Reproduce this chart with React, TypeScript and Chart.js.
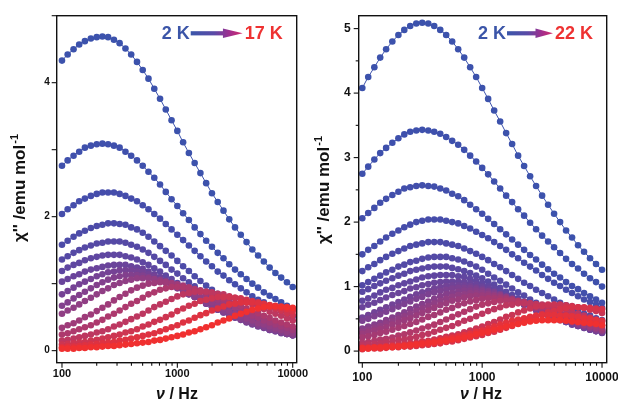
import React, { useEffect, useRef } from "react";
import { Chart, registerables } from "chart.js";

Chart.register(...registerables);

// ---------------- data ----------------
const FREQ_HZ = [100, 112, 126, 141, 158, 178, 200, 224, 251, 282, 316, 355, 398, 447, 501, 562, 631, 708, 794, 891, 1000, 1122, 1259, 1413, 1585, 1778, 1995, 2239, 2512, 2818, 3162, 3548, 3981, 4467, 5012, 5623, 6310, 7079, 7943, 8913, 10000];

const TEMPS_LEFT_K = [2, 3, 4, 5, 6, 7, 8, 9, 10, 11, 12, 13, 14, 15, 16, 17];
const TEMPS_RIGHT_K = [2, 3, 4, 5, 6, 7, 8, 9, 10, 11, 12, 13, 14, 15, 16, 17, 18, 19, 20, 21, 22];

const X_TICK_LABELS = [100, 1000, 10000];
const Y_TICK_LABELS_LEFT = [0, 2, 4];
const Y_TICK_LABELS_RIGHT = [0, 1, 2, 3, 4, 5];

// left panel, chi'' (emu/mol)
const chiL02 = [4.33, 4.42, 4.50, 4.57, 4.62, 4.66, 4.68, 4.69, 4.68, 4.64, 4.59, 4.51, 4.42, 4.31, 4.19, 4.06, 3.91, 3.76, 3.60, 3.44, 3.28, 3.11, 2.95, 2.80, 2.65, 2.50, 2.35, 2.22, 2.09, 1.96, 1.84, 1.73, 1.62, 1.51, 1.42, 1.33, 1.24, 1.16, 1.09, 1.02, 0.95];
const chiL03 = [2.76, 2.84, 2.91, 2.97, 3.03, 3.06, 3.08, 3.09, 3.08, 3.06, 3.03, 2.97, 2.91, 2.84, 2.76, 2.67, 2.58, 2.48, 2.37, 2.26, 2.16, 2.05, 1.95, 1.84, 1.74, 1.64, 1.55, 1.46, 1.38, 1.29, 1.21, 1.14, 1.07, 1.00, 0.94, 0.87, 0.82, 0.77, 0.72, 0.67, 0.63];
const chiL04 = [2.04, 2.11, 2.17, 2.23, 2.27, 2.31, 2.34, 2.36, 2.36, 2.36, 2.34, 2.31, 2.27, 2.23, 2.17, 2.11, 2.04, 1.97, 1.89, 1.81, 1.73, 1.65, 1.57, 1.49, 1.41, 1.33, 1.26, 1.18, 1.12, 1.05, 0.99, 0.93, 0.87, 0.81, 0.76, 0.72, 0.67, 0.63, 0.59, 0.55, 0.51];
const chiL05 = [1.58, 1.64, 1.70, 1.75, 1.79, 1.83, 1.86, 1.88, 1.90, 1.90, 1.89, 1.88, 1.84, 1.81, 1.76, 1.70, 1.63, 1.56, 1.49, 1.42, 1.34, 1.26, 1.19, 1.11, 1.04, 0.97, 0.91, 0.85, 0.78, 0.73, 0.68, 0.63, 0.58, 0.54, 0.50, 0.46, 0.43, 0.39, 0.36, 0.34, 0.31];
const chiL06 = [1.36, 1.41, 1.46, 1.50, 1.54, 1.57, 1.60, 1.61, 1.63, 1.63, 1.63, 1.61, 1.58, 1.55, 1.51, 1.46, 1.40, 1.34, 1.28, 1.21, 1.15, 1.08, 1.02, 0.96, 0.89, 0.83, 0.78, 0.73, 0.67, 0.63, 0.58, 0.54, 0.50, 0.46, 0.43, 0.40, 0.37, 0.34, 0.31, 0.29, 0.27];
const chiL07 = [1.19, 1.24, 1.28, 1.31, 1.35, 1.38, 1.40, 1.42, 1.43, 1.43, 1.43, 1.41, 1.39, 1.36, 1.32, 1.28, 1.23, 1.18, 1.12, 1.07, 1.01, 0.95, 0.89, 0.84, 0.78, 0.73, 0.68, 0.64, 0.59, 0.55, 0.51, 0.47, 0.44, 0.40, 0.37, 0.35, 0.32, 0.30, 0.27, 0.25, 0.23];
const chiL08 = [1.03, 1.07, 1.11, 1.14, 1.18, 1.21, 1.23, 1.25, 1.27, 1.28, 1.28, 1.28, 1.26, 1.24, 1.22, 1.18, 1.14, 1.10, 1.05, 1.00, 0.95, 0.90, 0.85, 0.80, 0.75, 0.70, 0.66, 0.61, 0.57, 0.53, 0.49, 0.46, 0.42, 0.39, 0.36, 0.34, 0.31, 0.29, 0.26, 0.25, 0.23];
const chiL09 = [0.84, 0.89, 0.94, 0.99, 1.03, 1.07, 1.11, 1.14, 1.17, 1.18, 1.20, 1.20, 1.20, 1.18, 1.17, 1.14, 1.11, 1.07, 1.03, 0.99, 0.94, 0.89, 0.84, 0.80, 0.75, 0.70, 0.66, 0.61, 0.57, 0.53, 0.50, 0.46, 0.43, 0.40, 0.37, 0.34, 0.31, 0.29, 0.27, 0.25, 0.23];
const chiL10 = [0.67, 0.72, 0.78, 0.83, 0.88, 0.93, 0.98, 1.02, 1.06, 1.09, 1.11, 1.13, 1.13, 1.13, 1.12, 1.10, 1.07, 1.04, 1.01, 0.97, 0.93, 0.89, 0.84, 0.80, 0.75, 0.71, 0.66, 0.62, 0.58, 0.54, 0.50, 0.47, 0.43, 0.40, 0.37, 0.35, 0.32, 0.30, 0.27, 0.25, 0.23];
const chiL11 = [0.55, 0.60, 0.64, 0.69, 0.74, 0.79, 0.84, 0.89, 0.93, 0.98, 1.01, 1.04, 1.06, 1.08, 1.08, 1.08, 1.07, 1.05, 1.03, 1.00, 0.97, 0.93, 0.89, 0.85, 0.80, 0.76, 0.72, 0.68, 0.63, 0.59, 0.55, 0.52, 0.48, 0.45, 0.41, 0.39, 0.36, 0.33, 0.31, 0.28, 0.26];
const chiL12 = [0.34, 0.38, 0.41, 0.45, 0.50, 0.54, 0.59, 0.64, 0.69, 0.75, 0.80, 0.85, 0.90, 0.94, 0.97, 1.00, 1.01, 1.02, 1.02, 1.01, 0.99, 0.97, 0.94, 0.91, 0.88, 0.84, 0.80, 0.76, 0.72, 0.68, 0.64, 0.60, 0.56, 0.52, 0.49, 0.45, 0.42, 0.39, 0.36, 0.34, 0.31];
const chiL13 = [0.24, 0.26, 0.29, 0.32, 0.35, 0.38, 0.42, 0.46, 0.51, 0.55, 0.60, 0.65, 0.70, 0.74, 0.79, 0.84, 0.87, 0.91, 0.93, 0.95, 0.95, 0.95, 0.94, 0.92, 0.90, 0.88, 0.85, 0.82, 0.78, 0.74, 0.71, 0.67, 0.63, 0.59, 0.56, 0.52, 0.49, 0.45, 0.42, 0.39, 0.36];
const chiL14 = [0.15, 0.16, 0.18, 0.20, 0.22, 0.24, 0.27, 0.29, 0.32, 0.36, 0.39, 0.43, 0.47, 0.51, 0.55, 0.60, 0.65, 0.69, 0.73, 0.77, 0.81, 0.84, 0.86, 0.88, 0.88, 0.88, 0.87, 0.85, 0.84, 0.81, 0.79, 0.76, 0.72, 0.69, 0.66, 0.62, 0.58, 0.55, 0.52, 0.48, 0.45];
const chiL15 = [0.09, 0.10, 0.11, 0.12, 0.13, 0.15, 0.16, 0.18, 0.20, 0.22, 0.24, 0.27, 0.29, 0.32, 0.36, 0.39, 0.43, 0.46, 0.50, 0.54, 0.59, 0.63, 0.67, 0.70, 0.74, 0.76, 0.78, 0.80, 0.80, 0.80, 0.79, 0.78, 0.76, 0.74, 0.72, 0.69, 0.66, 0.63, 0.60, 0.56, 0.53];
const chiL16 = [0.05, 0.06, 0.06, 0.07, 0.08, 0.09, 0.10, 0.11, 0.12, 0.13, 0.15, 0.16, 0.18, 0.20, 0.22, 0.24, 0.26, 0.29, 0.32, 0.35, 0.38, 0.42, 0.45, 0.49, 0.53, 0.56, 0.60, 0.63, 0.66, 0.69, 0.70, 0.72, 0.72, 0.72, 0.71, 0.70, 0.68, 0.67, 0.64, 0.62, 0.59];
const chiL17 = [0.03, 0.03, 0.03, 0.04, 0.04, 0.05, 0.05, 0.06, 0.07, 0.07, 0.08, 0.09, 0.10, 0.11, 0.12, 0.13, 0.15, 0.16, 0.18, 0.20, 0.22, 0.24, 0.27, 0.29, 0.32, 0.35, 0.38, 0.42, 0.45, 0.48, 0.52, 0.55, 0.58, 0.61, 0.63, 0.65, 0.66, 0.66, 0.66, 0.65, 0.64];

// right panel, chi'' (emu/mol)
const chiR02 = [4.08, 4.25, 4.40, 4.55, 4.68, 4.80, 4.90, 4.98, 5.04, 5.08, 5.09, 5.08, 5.04, 4.98, 4.90, 4.80, 4.68, 4.55, 4.40, 4.25, 4.08, 3.91, 3.73, 3.56, 3.38, 3.21, 3.03, 2.87, 2.71, 2.56, 2.41, 2.27, 2.13, 2.00, 1.87, 1.76, 1.64, 1.54, 1.44, 1.35, 1.26];
const chiR03 = [2.75, 2.86, 2.97, 3.07, 3.15, 3.23, 3.30, 3.36, 3.40, 3.42, 3.43, 3.42, 3.40, 3.37, 3.32, 3.26, 3.20, 3.12, 3.03, 2.94, 2.84, 2.74, 2.63, 2.52, 2.41, 2.31, 2.20, 2.10, 1.99, 1.89, 1.79, 1.70, 1.61, 1.52, 1.43, 1.35, 1.28, 1.20, 1.13, 1.07, 1.00];
const chiR04 = [2.06, 2.14, 2.22, 2.30, 2.36, 2.42, 2.47, 2.52, 2.54, 2.56, 2.57, 2.56, 2.55, 2.52, 2.49, 2.44, 2.40, 2.34, 2.27, 2.20, 2.13, 2.05, 1.97, 1.89, 1.81, 1.73, 1.65, 1.57, 1.49, 1.42, 1.34, 1.27, 1.20, 1.14, 1.07, 1.01, 0.96, 0.90, 0.85, 0.80, 0.75];
const chiR05 = [1.50, 1.57, 1.63, 1.70, 1.76, 1.82, 1.87, 1.92, 1.96, 2.00, 2.02, 2.04, 2.04, 2.04, 2.02, 2.00, 1.98, 1.94, 1.90, 1.85, 1.80, 1.75, 1.69, 1.63, 1.57, 1.50, 1.44, 1.37, 1.31, 1.25, 1.18, 1.12, 1.06, 1.01, 0.95, 0.90, 0.85, 0.80, 0.76, 0.72, 0.67];
const chiR06 = [1.24, 1.30, 1.35, 1.41, 1.46, 1.51, 1.55, 1.59, 1.63, 1.65, 1.67, 1.69, 1.69, 1.69, 1.67, 1.65, 1.63, 1.59, 1.55, 1.51, 1.46, 1.41, 1.35, 1.30, 1.24, 1.18, 1.12, 1.06, 1.01, 0.95, 0.90, 0.85, 0.80, 0.75, 0.71, 0.66, 0.62, 0.58, 0.55, 0.51, 0.48];
const chiR07 = [1.02, 1.07, 1.12, 1.17, 1.22, 1.26, 1.31, 1.34, 1.38, 1.40, 1.43, 1.45, 1.46, 1.46, 1.46, 1.44, 1.42, 1.39, 1.35, 1.31, 1.26, 1.20, 1.14, 1.09, 1.03, 0.97, 0.91, 0.86, 0.80, 0.75, 0.70, 0.65, 0.60, 0.56, 0.52, 0.48, 0.45, 0.41, 0.38, 0.35, 0.33];
const chiR08 = [0.92, 0.96, 1.01, 1.05, 1.09, 1.13, 1.17, 1.20, 1.24, 1.26, 1.28, 1.30, 1.31, 1.31, 1.31, 1.29, 1.27, 1.24, 1.21, 1.17, 1.13, 1.08, 1.03, 0.98, 0.92, 0.87, 0.82, 0.77, 0.72, 0.67, 0.63, 0.58, 0.54, 0.50, 0.47, 0.43, 0.40, 0.37, 0.34, 0.32, 0.29];
const chiR09 = [0.78, 0.82, 0.86, 0.91, 0.95, 0.98, 1.02, 1.05, 1.08, 1.11, 1.14, 1.16, 1.17, 1.18, 1.18, 1.18, 1.16, 1.15, 1.12, 1.09, 1.05, 1.01, 0.97, 0.93, 0.88, 0.83, 0.78, 0.74, 0.69, 0.65, 0.60, 0.56, 0.53, 0.49, 0.45, 0.42, 0.39, 0.36, 0.33, 0.31, 0.29];
const chiR10 = [0.68, 0.72, 0.75, 0.79, 0.83, 0.87, 0.90, 0.93, 0.97, 0.99, 1.02, 1.04, 1.06, 1.07, 1.08, 1.08, 1.08, 1.07, 1.05, 1.03, 1.00, 0.97, 0.93, 0.89, 0.85, 0.80, 0.76, 0.72, 0.68, 0.63, 0.59, 0.55, 0.52, 0.48, 0.45, 0.41, 0.39, 0.36, 0.33, 0.31, 0.28];
const chiR11 = [0.52, 0.56, 0.60, 0.64, 0.68, 0.72, 0.76, 0.80, 0.84, 0.88, 0.91, 0.94, 0.97, 0.99, 1.01, 1.02, 1.02, 1.02, 1.01, 0.99, 0.97, 0.94, 0.91, 0.88, 0.84, 0.80, 0.76, 0.72, 0.68, 0.64, 0.60, 0.56, 0.52, 0.49, 0.45, 0.42, 0.39, 0.36, 0.34, 0.31, 0.29];
const chiR12 = [0.47, 0.50, 0.54, 0.57, 0.61, 0.65, 0.69, 0.73, 0.77, 0.81, 0.84, 0.88, 0.91, 0.93, 0.95, 0.97, 0.98, 0.98, 0.98, 0.97, 0.95, 0.93, 0.91, 0.88, 0.84, 0.81, 0.77, 0.73, 0.69, 0.65, 0.61, 0.57, 0.54, 0.50, 0.47, 0.44, 0.40, 0.38, 0.35, 0.32, 0.30];
const chiR13 = [0.35, 0.38, 0.41, 0.44, 0.48, 0.52, 0.56, 0.60, 0.65, 0.69, 0.73, 0.77, 0.81, 0.85, 0.88, 0.90, 0.92, 0.94, 0.94, 0.94, 0.93, 0.91, 0.89, 0.87, 0.84, 0.81, 0.77, 0.74, 0.70, 0.66, 0.62, 0.59, 0.55, 0.52, 0.48, 0.45, 0.42, 0.39, 0.36, 0.34, 0.31];
const chiR14 = [0.30, 0.33, 0.36, 0.39, 0.43, 0.46, 0.50, 0.54, 0.58, 0.62, 0.66, 0.70, 0.74, 0.78, 0.81, 0.84, 0.87, 0.88, 0.90, 0.90, 0.90, 0.89, 0.87, 0.86, 0.83, 0.80, 0.77, 0.74, 0.71, 0.67, 0.63, 0.60, 0.56, 0.53, 0.49, 0.46, 0.43, 0.40, 0.37, 0.35, 0.32];
const chiR15 = [0.27, 0.29, 0.32, 0.34, 0.37, 0.41, 0.44, 0.48, 0.51, 0.55, 0.59, 0.63, 0.67, 0.71, 0.74, 0.78, 0.80, 0.83, 0.85, 0.86, 0.86, 0.86, 0.85, 0.84, 0.82, 0.79, 0.77, 0.74, 0.71, 0.67, 0.64, 0.61, 0.57, 0.54, 0.50, 0.47, 0.44, 0.41, 0.38, 0.36, 0.33];
const chiR16 = [0.21, 0.23, 0.25, 0.28, 0.30, 0.33, 0.36, 0.39, 0.42, 0.45, 0.49, 0.53, 0.56, 0.60, 0.64, 0.67, 0.71, 0.74, 0.77, 0.79, 0.81, 0.82, 0.82, 0.82, 0.81, 0.80, 0.78, 0.76, 0.73, 0.71, 0.67, 0.64, 0.61, 0.58, 0.54, 0.51, 0.48, 0.45, 0.42, 0.39, 0.36];
const chiR17 = [0.13, 0.14, 0.16, 0.18, 0.19, 0.21, 0.24, 0.26, 0.29, 0.32, 0.35, 0.38, 0.41, 0.45, 0.49, 0.53, 0.57, 0.61, 0.65, 0.69, 0.72, 0.74, 0.76, 0.78, 0.78, 0.78, 0.77, 0.76, 0.74, 0.72, 0.70, 0.67, 0.64, 0.61, 0.58, 0.55, 0.52, 0.49, 0.46, 0.43, 0.40];
const chiR18 = [0.09, 0.10, 0.11, 0.12, 0.14, 0.15, 0.17, 0.18, 0.20, 0.22, 0.25, 0.27, 0.30, 0.33, 0.36, 0.39, 0.43, 0.47, 0.50, 0.54, 0.58, 0.62, 0.65, 0.68, 0.71, 0.72, 0.74, 0.74, 0.74, 0.73, 0.72, 0.70, 0.68, 0.66, 0.64, 0.61, 0.58, 0.55, 0.52, 0.49, 0.46];
const chiR19 = [0.05, 0.06, 0.06, 0.07, 0.08, 0.09, 0.10, 0.11, 0.12, 0.13, 0.15, 0.16, 0.18, 0.20, 0.22, 0.24, 0.26, 0.29, 0.32, 0.35, 0.38, 0.42, 0.45, 0.49, 0.53, 0.56, 0.60, 0.63, 0.66, 0.69, 0.70, 0.72, 0.72, 0.72, 0.71, 0.70, 0.68, 0.67, 0.64, 0.62, 0.59];
const chiR20 = [0.03, 0.04, 0.04, 0.04, 0.05, 0.06, 0.06, 0.07, 0.07, 0.08, 0.09, 0.10, 0.11, 0.12, 0.14, 0.15, 0.17, 0.19, 0.21, 0.23, 0.25, 0.28, 0.30, 0.33, 0.36, 0.39, 0.43, 0.46, 0.50, 0.53, 0.57, 0.60, 0.62, 0.65, 0.67, 0.68, 0.68, 0.68, 0.67, 0.66, 0.65];
const chiR21 = [0.05, 0.05, 0.06, 0.06, 0.07, 0.08, 0.08, 0.09, 0.10, 0.11, 0.13, 0.14, 0.15, 0.17, 0.19, 0.21, 0.23, 0.25, 0.27, 0.30, 0.32, 0.35, 0.38, 0.41, 0.44, 0.47, 0.49, 0.51, 0.53, 0.55, 0.56, 0.56, 0.56, 0.55, 0.55, 0.54, 0.53, 0.51, 0.50, 0.48, 0.47];
const chiR22 = [0.04, 0.04, 0.05, 0.05, 0.06, 0.06, 0.07, 0.08, 0.09, 0.10, 0.11, 0.12, 0.13, 0.15, 0.16, 0.18, 0.19, 0.21, 0.23, 0.26, 0.28, 0.30, 0.33, 0.35, 0.38, 0.40, 0.42, 0.44, 0.46, 0.47, 0.48, 0.48, 0.48, 0.48, 0.47, 0.46, 0.45, 0.44, 0.43, 0.42, 0.40];

const SERIES_LEFT = [chiL02, chiL03, chiL04, chiL05, chiL06, chiL07, chiL08, chiL09, chiL10, chiL11, chiL12, chiL13, chiL14, chiL15, chiL16, chiL17];
const SERIES_RIGHT = [chiR02, chiR03, chiR04, chiR05, chiR06, chiR07, chiR08, chiR09, chiR10, chiR11, chiR12, chiR13, chiR14, chiR15, chiR16, chiR17, chiR18, chiR19, chiR20, chiR21, chiR22];

// ---------------- styling ----------------
const FONT = '"Liberation Sans", Arial, Helvetica, sans-serif';
const PAGE_H = 401;
const BLUE = "#3b55a8";
const RED = "#ee3232";

function tempColor(t: number): string {
  const r = Math.round(60 + 180 * Math.pow(t, 1.5));
  const g = Math.round(82 - 34 * t);
  const b = Math.round(172 - 124 * Math.pow(t, 2.2));
  return `rgb(${r},${g},${b})`;
}

type PanelCfg = {
  series: number[][];
  temps: number[];
  canvasLeft: number;
  canvasWidth: number;
  area: { left: number; right: number; top: number; bottom: number };
  xMin: number;
  xMax: number;
  yMin: number;
  yMax: number;
  yLabels: number[];
  yMajor: number;
  yMinor: number;
  yTickFont: number;
  xTickFont: number;
  yTickPad: number;
  xTickPad: number;
  yTitleX: number;
  yTitleY: number;
  yTitleSize: number;
  xTitleX: number;
  xTitleBase: number;
  xTitleSize: number;
  legendX: number;
  legendY: number;
  arrowLen: number;
  hotLabel: string;
};

function makeDecor(p: PanelCfg) {
  return {
    id: "panelDecor",
    afterDraw(chart: any) {
      const ctx: CanvasRenderingContext2D = chart.ctx;
      const a = chart.chartArea;
      const xs = chart.scales.x;
      const ys = chart.scales.y;
      ctx.save();
      // frame
      ctx.strokeStyle = "#111";
      ctx.lineWidth = 1.4;
      ctx.strokeRect(a.left, a.top, a.right - a.left, a.bottom - a.top);
      // x ticks (outward)
      ctx.lineWidth = 1.1;
      const xTick = (v: number, major: boolean) => {
        const px = xs.getPixelForValue(v);
        ctx.beginPath();
        ctx.moveTo(px, a.bottom);
        ctx.lineTo(px, a.bottom + (major ? 5 : 3));
        ctx.stroke();
      };
      for (const dec of [100, 1000]) {
        for (let m = 1; m <= 9; m++) xTick(dec * m, m === 1);
      }
      xTick(10000, true);
      // y ticks (outward)
      for (let v = 0; v <= p.yMax + 1e-9; v += p.yMinor) {
        const q = v / p.yMajor;
        const major = Math.abs(q - Math.round(q)) < 1e-6;
        const py = ys.getPixelForValue(v);
        ctx.beginPath();
        ctx.moveTo(a.left, py);
        ctx.lineTo(a.left - (major ? 5 : 3), py);
        ctx.stroke();
      }
      ctx.fillStyle = "#111";
      // y title
      ctx.save();
      ctx.translate(p.yTitleX, p.yTitleY);
      ctx.rotate(-Math.PI / 2);
      const mainFont = `bold ${p.yTitleSize}px ${FONT}`;
      const supFont = `bold ${Math.round(p.yTitleSize * 0.62)}px ${FONT}`;
      const mainTxt = "\u03C7'' /emu mol";
      const supTxt = "-1";
      ctx.font = mainFont;
      const w1 = ctx.measureText(mainTxt).width;
      ctx.font = supFont;
      const w2 = ctx.measureText(supTxt).width;
      const sx = -(w1 + w2 + 1) / 2;
      const base = p.yTitleSize * 0.36;
      ctx.textBaseline = "alphabetic";
      ctx.font = mainFont;
      ctx.fillText(mainTxt, sx, base);
      ctx.font = supFont;
      ctx.fillText(supTxt, sx + w1 + 1, base - p.yTitleSize * 0.42);
      ctx.restore();
      // x title
      const nuFont = `italic bold ${p.xTitleSize}px ${FONT}`;
      const hzFont = `bold ${p.xTitleSize}px ${FONT}`;
      ctx.font = nuFont;
      const wn = ctx.measureText("\u03BD").width;
      ctx.font = hzFont;
      const wh = ctx.measureText(" / Hz").width;
      const tx = p.xTitleX - (wn + wh) / 2;
      ctx.textBaseline = "alphabetic";
      ctx.font = nuFont;
      ctx.fillText("\u03BD", tx, p.xTitleBase);
      ctx.font = hzFont;
      ctx.fillText(" / Hz", tx + wn, p.xTitleBase);
      // legend annotation: 2 K ----> hot K
      ctx.font = `bold 18px ${FONT}`;
      ctx.textBaseline = "middle";
      ctx.fillStyle = BLUE;
      const coldTxt = "2 K";
      const wc = ctx.measureText(coldTxt).width;
      ctx.fillText(coldTxt, p.legendX, p.legendY + 1);
      const ax0 = p.legendX + wc + 1;
      const ax1 = ax0 + p.arrowLen;
      const grad = ctx.createLinearGradient(ax0, 0, ax1, 0);
      grad.addColorStop(0, "#3a56aa");
      grad.addColorStop(0.45, "#5a4aa6");
      grad.addColorStop(0.75, "#a02e8e");
      grad.addColorStop(1, "#d42a6a");
      ctx.fillStyle = grad;
      const headLen = Math.min(20, p.arrowLen * 0.38);
      ctx.fillRect(ax0, p.legendY - 2.1, ax1 - headLen - ax0 + 1, 4.2);
      ctx.beginPath();
      ctx.moveTo(ax1 - headLen, p.legendY - 4.8);
      ctx.lineTo(ax1, p.legendY);
      ctx.lineTo(ax1 - headLen, p.legendY + 4.8);
      ctx.closePath();
      ctx.fill();
      ctx.fillStyle = RED;
      ctx.fillText(p.hotLabel, ax1 + 2, p.legendY + 1);
      ctx.restore();
    },
  };
}

function PanelChart({ cfg }: { cfg: PanelCfg }) {
  const ref = useRef<HTMLCanvasElement | null>(null);
  useEffect(() => {
    const canvas = ref.current;
    if (!canvas) return;
    const n = cfg.series.length;
    const datasets = cfg.series.map((vals, i) => {
      const c = tempColor(i / (n - 1));
      return {
        label: `${cfg.temps[i]} K`,
        data: vals.map((y, k) => ({ x: FREQ_HZ[k], y })),
        borderColor: c,
        backgroundColor: c,
        pointBackgroundColor: c,
        pointBorderColor: c,
        pointBorderWidth: 0,
        pointRadius: 3.3,
        borderWidth: 1,
        tension: 0,
        order: n - 1 - i,
      };
    });
    const a = cfg.area;
    const chart = new Chart(canvas, {
      type: "line",
      data: { datasets } as any,
      options: {
        animation: false,
        responsive: false,
        maintainAspectRatio: false,
        layout: { padding: { left: 0, right: cfg.canvasWidth - a.right, top: a.top, bottom: 0 } },
        plugins: { legend: { display: false }, tooltip: { enabled: false } },
        scales: {
          x: {
            type: "logarithmic",
            min: cfg.xMin,
            max: cfg.xMax,
            grid: { display: false, drawTicks: false },
            border: { display: false },
            ticks: {
              color: "#111",
              font: { family: FONT, size: cfg.xTickFont, weight: "bold" },
              padding: cfg.xTickPad,
              autoSkip: false,
              maxRotation: 0,
              callback: (v: any) => String(v),
            },
            afterBuildTicks: (s: any) => {
              s.ticks = X_TICK_LABELS.map((v) => ({ value: v }));
            },
            afterFit: (s: any) => {
              s.height = PAGE_H - a.bottom;
              s.paddingLeft = 0;
              s.paddingRight = 0;
            },
          },
          y: {
            type: "linear",
            min: cfg.yMin,
            max: cfg.yMax,
            grid: { display: false, drawTicks: false },
            border: { display: false },
            ticks: {
              color: "#111",
              font: { family: FONT, size: cfg.yTickFont, weight: "bold" },
              padding: cfg.yTickPad,
              autoSkip: false,
              callback: (v: any) => String(v),
            },
            afterBuildTicks: (s: any) => {
              s.ticks = cfg.yLabels.map((v) => ({ value: v }));
            },
            afterFit: (s: any) => {
              s.width = a.left;
              s.paddingTop = 0;
              s.paddingBottom = 0;
            },
          },
        },
      } as any,
      plugins: [makeDecor(cfg)],
    });
    return () => chart.destroy();
  }, [cfg]);
  return (
    <canvas
      ref={ref}
      width={cfg.canvasWidth}
      height={PAGE_H}
      style={{ position: "absolute", left: cfg.canvasLeft, top: 0, width: cfg.canvasWidth, height: PAGE_H }}
    />
  );
}

const LEFT_CFG: PanelCfg = {
  series: SERIES_LEFT,
  temps: TEMPS_LEFT_K,
  canvasLeft: 0,
  canvasWidth: 308,
  area: { left: 56.7, right: 296.7, top: 15.7, bottom: 362.7 },
  xMin: 90,
  xMax: 10830,
  yMin: -0.18,
  yMax: 5.0,
  yLabels: Y_TICK_LABELS_LEFT,
  yMajor: 1,
  yMinor: 1,
  yTickFont: 10,
  xTickFont: 11,
  yTickPad: 7,
  xTickPad: 5,
  yTitleX: 19,
  yTitleY: 188,
  yTitleSize: 17,
  xTitleX: 177,
  xTitleBase: 399,
  xTitleSize: 16,
  legendX: 161.7,
  legendY: 33.3,
  arrowLen: 52,
  hotLabel: "17 K",
};

const RIGHT_CFG: PanelCfg = {
  series: SERIES_RIGHT,
  temps: TEMPS_RIGHT_K,
  canvasLeft: 308,
  canvasWidth: 310,
  area: { left: 50.7, right: 298.7, top: 15.7, bottom: 362.7 },
  xMin: 93.3,
  xMax: 10940,
  yMin: -0.18,
  yMax: 5.2,
  yLabels: Y_TICK_LABELS_RIGHT,
  yMajor: 1,
  yMinor: 0.5,
  yTickFont: 12,
  xTickFont: 12,
  yTickPad: 8,
  xTickPad: 8,
  yTitleX: 15,
  yTitleY: 190,
  yTitleSize: 17,
  xTitleX: 173,
  xTitleBase: 399,
  xTitleSize: 16,
  legendX: 170,
  legendY: 33.3,
  arrowLen: 46,
  hotLabel: "22 K",
};

export default function App() {
  return (
    <div style={{ position: "absolute", left: 0, top: 0, width: 618, height: PAGE_H, background: "#fff", overflow: "hidden" }}>
      <PanelChart cfg={LEFT_CFG} />
      <PanelChart cfg={RIGHT_CFG} />
    </div>
  );
}
